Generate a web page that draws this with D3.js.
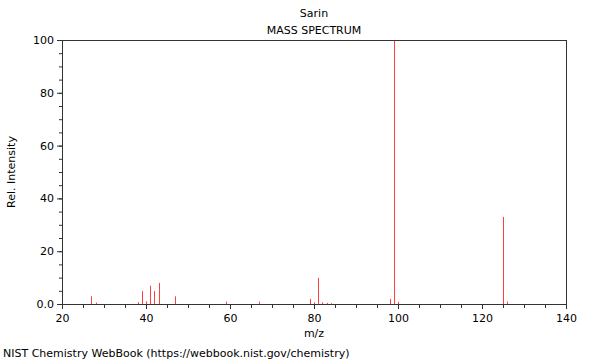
<!DOCTYPE html>
<html><head><meta charset="utf-8">
<script src="https://cdn.jsdelivr.net/npm/d3@7"></script>
<style>body{margin:0;background:#fff}svg{display:block}text{font-family:"DejaVu Sans",sans-serif;}</style>
</head><body><svg id="c" width="600" height="360"></svg>
<script>
const mz =        [27, 28, 38, 39, 40, 41, 42, 43, 47, 59, 67, 79, 80, 81, 82, 83, 84, 98, 99, 100, 125, 126];
const intensity = [2.9, 0.5, 0.7, 4.9, 1.0, 6.9, 4.9, 8.0, 2.9, 0.9, 0.9, 1.9, 0.6, 9.9, 0.6, 0.4, 0.3, 1.9, 100, 0.8, 33, 0.9];
const xTicks = [20, 40, 60, 80, 100, 120, 140];
const yTicks = [0, 20, 40, 60, 80, 100];

const svg = d3.select("#c");
const L = 62, R = 566, T = 40, B = 304;
const x = d3.scaleLinear().domain([20, 140]).range([L, R]);
const y = d3.scaleLinear().domain([0, 100]).range([B, T]);
const axisColor = "#333";

// bars
svg.append("g").selectAll("line").data(mz).join("line")
  .attr("x1", d => Math.round(x(d)) + 0.5).attr("x2", d => Math.round(x(d)) + 0.5)
  .attr("y1", y(0)).attr("y2", (d, i) => y(intensity[i]))
  .attr("stroke", "#ff0000").attr("stroke-opacity", 0.75).attr("stroke-width", 1);

// minor ticks
const gx = svg.append("g").attr("transform", `translate(0,${B})`);
gx.call(d3.axisBottom(x).tickValues(d3.range(20, 141, 5)).tickSize(4).tickFormat(""));
gx.call(g => g.select(".domain").remove());
const gx2 = svg.append("g").attr("transform", `translate(0,${B})`);
gx2.call(d3.axisBottom(x).tickValues(xTicks).tickSize(5).tickSizeOuter(0).tickFormat(d3.format("d")));
gx2.selectAll("text").attr("font-size", 11).attr("fill", "#000").attr("dy", "0.9em");

const gy = svg.append("g").attr("transform", `translate(${L},0)`);
gy.call(d3.axisLeft(y).tickValues(d3.range(0, 101, 5)).tickSize(3).tickFormat(""));
gy.call(g => g.select(".domain").remove());
const gy2 = svg.append("g").attr("transform", `translate(${L},0)`);
gy2.call(d3.axisLeft(y).tickValues(yTicks).tickSize(5).tickSizeOuter(0).tickFormat(d => d === 0 ? "0.0" : d3.format("d")(d)));
gy2.selectAll("text").attr("font-size", 11).attr("fill", "#000");

svg.selectAll(".tick line").attr("stroke", axisColor);
svg.selectAll(".domain").attr("stroke", axisColor);

// frame
svg.append("rect").attr("x", L + 0.5).attr("y", T + 0.5).attr("width", R - L).attr("height", B - T)
  .attr("fill", "none").attr("stroke", axisColor).attr("stroke-width", 1);

// texts
svg.append("text").attr("x", 314).attr("y", 17).attr("text-anchor", "middle").attr("font-size", 11).text("Sarin");
svg.append("text").attr("x", 314).attr("y", 34).attr("text-anchor", "middle").attr("font-size", 11).text("MASS SPECTRUM");
svg.append("text").attr("x", 314).attr("y", 337).attr("text-anchor", "middle").attr("font-size", 11).text("m/z");
svg.append("text").attr("transform", "translate(15,172) rotate(-90)").attr("text-anchor", "middle").attr("font-size", 11).text("Rel. Intensity");
svg.append("text").attr("x", 3).attr("y", 357).attr("font-size", 11).text("NIST Chemistry WebBook (https://webbook.nist.gov/chemistry)");
</script></body></html>
